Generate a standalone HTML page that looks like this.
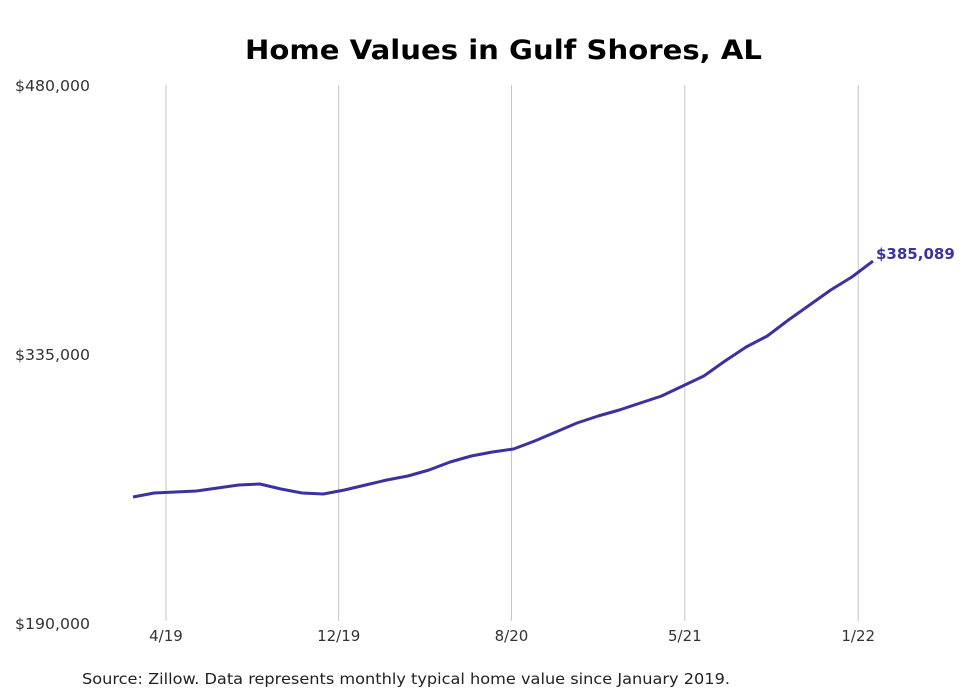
<!DOCTYPE html>
<html><head><meta charset="utf-8"><style>
body{margin:0;background:#fff;}
svg{display:block;font-family:"DejaVu Sans","Liberation Sans",sans-serif;}
</style></head><body>
<svg id="chart" width="980" height="699">
<text x="245" y="59" textLength="517" lengthAdjust="spacingAndGlyphs" font-size="27" font-weight="bold" fill="#000">Home Values in Gulf Shores, AL</text>
<g id="grid"></g><g id="yaxis"></g><g id="xaxis"></g><g id="series"></g>
<text x="82" y="684" textLength="648" lengthAdjust="spacingAndGlyphs" font-size="15" fill="#222">Source: Zillow. Data represents monthly typical home value since January 2019.</text>
</svg>
<script>
const values=[257918,260074,260613,261152,262769,264386,264925,262230,260074,259535,261691,264386,267081,269237,272471,276783,280018,282174,283791,288103,292954,297806,301579,304813,308587,312360,317750,323140,331226,338772,344701,353326,361411,369497,376504,385089];
const tickLabels=["4/19","12/19","8/20","5/21","1/22"];
const tickIdx=[1.56,9.73,17.9,26.1,34.3];
const yTicks=[190000,335000,480000];
const yTickLabels=["$190,000","$335,000","$480,000"];
const lastLabel="$385,089";
const NS="http://www.w3.org/2000/svg";
const x=i=>133+i*(740/35);
const y=v=>623-(v-190000)/290000*538;
function mk(p,t,a){const e=document.createElementNS(NS,t);for(const k in a)e.setAttribute(k,a[k]);document.getElementById(p).appendChild(e);return e;}
tickIdx.forEach((t,i)=>{
 const g=mk('grid','line',{x1:x(t),x2:x(t),y1:85,y2:621,stroke:'#c4c4c4','stroke-width':1});
 
 
 const l=mk('xaxis','text',{x:x(t),y:641,'text-anchor':'middle','font-size':15,fill:'#333'});
 l.textContent=tickLabels[i];
 
 
});
yTicks.forEach((v,i)=>{
 const l=mk('yaxis','text',{x:15,y:y(v)+6,'font-size':15,fill:'#333',textLength:75,lengthAdjust:'spacingAndGlyphs'});
 l.textContent=yTickLabels[i];
 
 
});
const p=mk('series','polyline',{points:values.map((v,i)=>x(i)+','+y(v)).join(' '),fill:'none',stroke:'#3b32a0','stroke-width':3,'stroke-linejoin':'round'});


const n=values.length-1;
const lt=mk('series','text',{x:x(n)+3,y:y(values[n])-2,'font-size':15,'font-weight':'bold',fill:'#3b32a0'});
lt.textContent=lastLabel;


</script>
</body></html>
